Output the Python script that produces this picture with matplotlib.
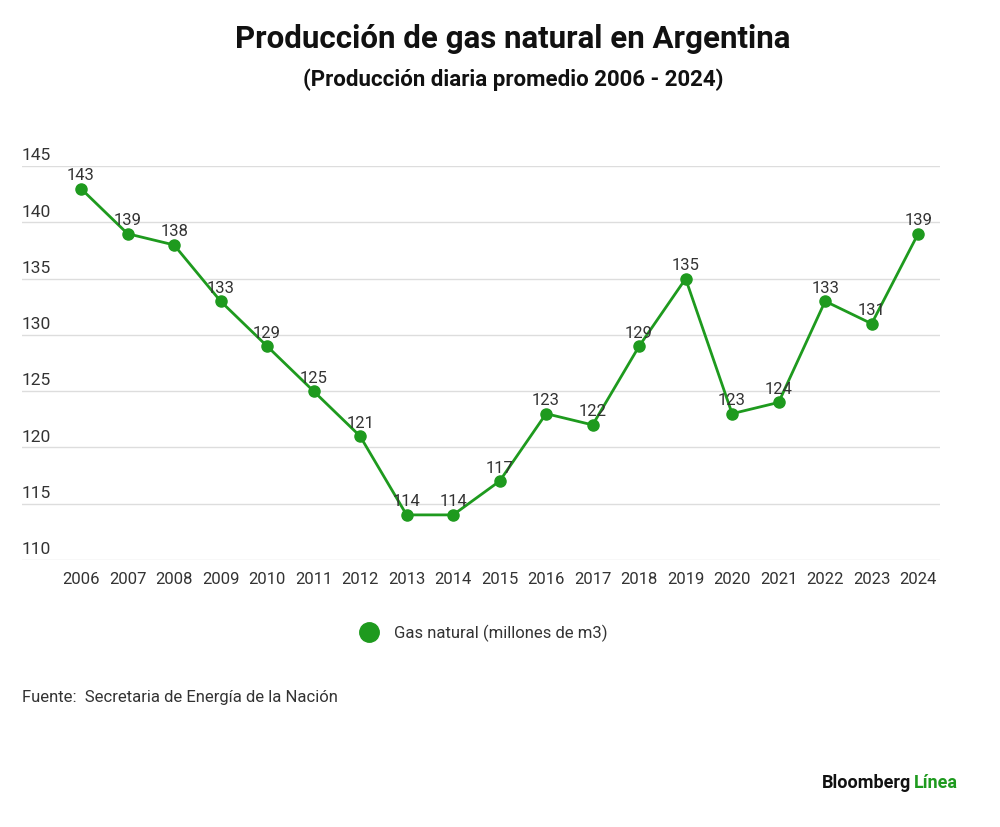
import matplotlib
matplotlib.use('Agg')
import matplotlib.pyplot as plt
from matplotlib.lines import Line2D

# Data
years = [2006, 2007, 2008, 2009, 2010, 2011, 2012, 2013, 2014, 2015,
         2016, 2017, 2018, 2019, 2020, 2021, 2022, 2023, 2024]
gas = [143, 139, 138, 133, 129, 125, 121, 114, 114, 117,
       123, 122, 129, 135, 123, 124, 133, 131, 139]
y_ticks = [110, 115, 120, 125, 130, 135, 140, 145]

green = '#1e9a1e'
text_col = '#333333'
plt.rcParams['font.family'] = ['Roboto', 'DejaVu Sans']

fig = plt.figure(figsize=(10, 8.27), dpi=100)
ax = fig.add_axes([0.022, 0.323, 0.918, 0.476])

ax.plot(years, gas, color=green, lw=2, marker='o', markersize=8, zorder=3)
for x, v in zip(years, gas):
    ax.annotate(str(v), (x, v), xytext=(0, 4), textcoords='offset points',
                ha='center', va='bottom', fontsize=12, color=text_col, zorder=4)

ax.set_xlim(2004.73, 2024.47)
ax.set_ylim(110, 145)
ax.set_xticks(years)
ax.set_xticklabels([str(y) for y in years], fontsize=12, color=text_col)
ax.tick_params(axis='x', length=0, pad=9)
ax.set_yticks(y_ticks)
ax.set_yticklabels([])
ax.tick_params(axis='y', length=0)
ax.grid(axis='y', color='#dddddd', lw=1)
ax.set_axisbelow(True)
for s in ax.spines.values():
    s.set_visible(False)

# y labels sit just above the grid lines, left aligned
for t in y_ticks:
    ax.text(0, t + 0.25, str(t), transform=ax.get_yaxis_transform(),
            ha='left', va='bottom', fontsize=12.5, color=text_col)

fig.text(0.513, 0.953, 'Producción de gas natural en Argentina',
         ha='center', va='center', fontsize=22.5, fontweight='bold', color='#111111')
fig.text(0.513, 0.904, '(Producción diaria promedio 2006 - 2024)',
         ha='center', va='center', fontsize=16, fontweight='bold', color='#111111')

handle = Line2D([], [], color=green, marker='o', linestyle='', markersize=14)
fig.legend([handle], ['Gas natural (millones de m3)'], loc='center',
           bbox_to_anchor=(0.48, 0.234), frameon=False, fontsize=12,
           handletextpad=0.5, labelcolor=text_col)

fig.text(0.022, 0.156, 'Fuente:  Secretaria de Energía de la Nación',
         ha='left', va='center', fontsize=12, color=text_col)

fig.text(0.911, 0.053, 'Bloomberg', ha='right', va='center', fontsize=13,
         fontweight='bold', color='#111111')
fig.text(0.914, 0.053, 'Línea', ha='left', va='center', fontsize=13,
         fontweight='bold', color=green)

fig.savefig('out.png', dpi=100, facecolor='white')
